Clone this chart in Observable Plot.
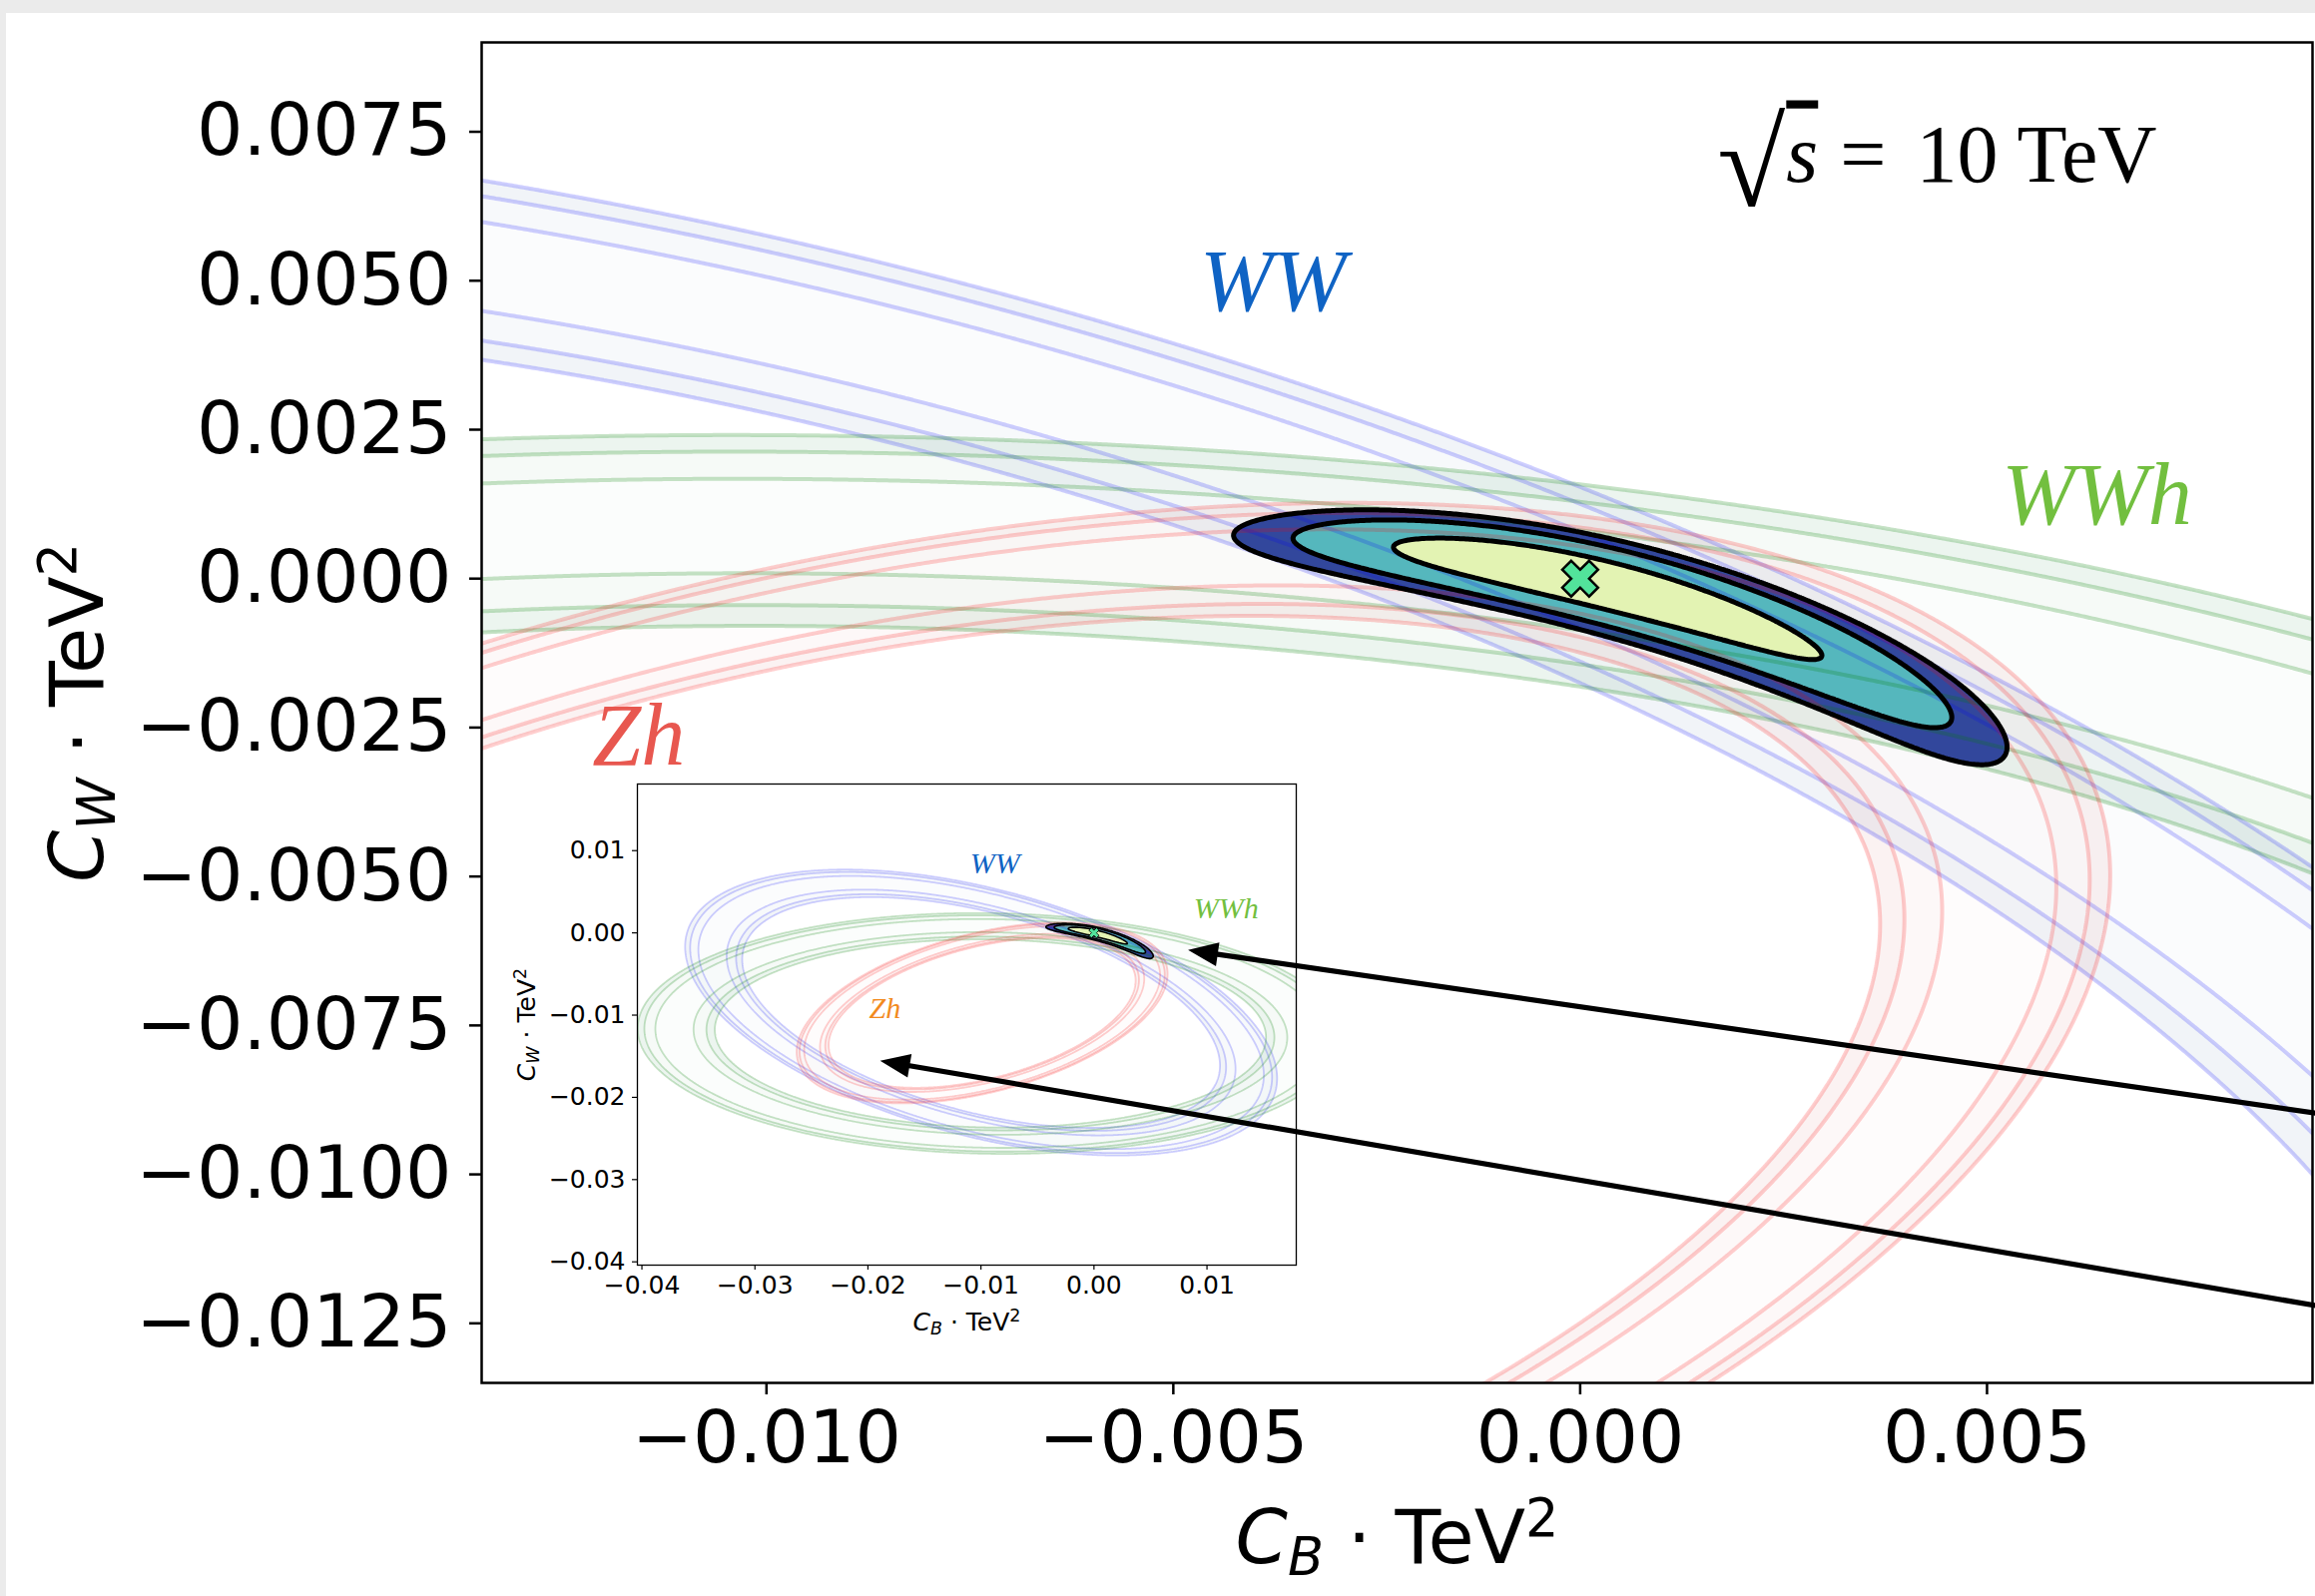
<!DOCTYPE html>
<html><head><meta charset="utf-8">
<script src="https://cdn.jsdelivr.net/npm/d3@7"></script>
<script src="https://cdn.jsdelivr.net/npm/@observablehq/plot@0.6"></script>
<style>
html,body{margin:0;padding:0;background:#ebebeb;}
#fig{position:relative;width:2319px;height:1599px;overflow:hidden;background:#ebebeb;}
#paper{position:absolute;left:6px;top:13px;width:2400px;height:1700px;background:#fff;}
#main{position:absolute;left:0;top:0;}
#inset{position:absolute;left:470px;top:765px;}
</style></head><body>
<div id="fig"><div id="paper"></div><div id="main"></div><div id="inset"></div></div>
<script>
// ---------------- data ----------------
const xDomain = [-0.0135, 0.009];
const yDomain = [-0.0135, 0.009];
const xTicks = [-0.010, -0.005, 0.000, 0.005];
const yTicks = [0.0075, 0.0050, 0.0025, 0.0000, -0.0025, -0.0050, -0.0075, -0.0100, -0.0125];
const insetXDomain = [-0.0404, 0.0179];
const insetYDomain = [-0.0404, 0.0181];
const insetXTicks = [-0.04, -0.03, -0.02, -0.01, 0.00, 0.01];
const insetYTicks = [0.01, 0.00, -0.01, -0.02, -0.03, -0.04];
// band lines: sqrt of Delta-chi2 at 68%, 95%, 99% (2 d.o.f.)
const sigmaLevels = [1.51, 2.447, 3.035];
// combined fit regions: Delta-chi2 at 99%, 95%, 68%
const chi2Levels = [9.21, 5.99, 2.28];
const bestFit = [0, 0];
// each band: deviation = a*u + b*v + c*u^2 + d*u*v + e*v^2, with u = C_B/0.01, v = C_W/0.01
// (coefficients fitted to points)
const coefWW  = [10.746, 18.605, 3.2181, 4.4590, 7.3067];
const coefWWh = [3.2714, 18.056, 1.6014, 0.27524, 7.2772];
const coefZh  = [6.3912, 26.872, 8.7916, -11.316, 19.566];
const mainLabels = ["WW", "WWh", "Zh"];
const mainLabelX = [-0.003775, 0.00635, -0.01157];
const mainLabelY = [0.004507, 0.000917, -0.003128];
const insetLabels = ["WW", "WWh", "Zh"];
const insetLabelX = [-0.00875, 0.0117, -0.0185];
const insetLabelY = [0.00726, 0.00176, -0.0104];
const arrowTipX = [0.008323, -0.018926];
const arrowTipY = [-0.002091, -0.015543];
const arrowAngle = [-81.77, -80.32];

// ---------------- band functions ----------------
const quad = c => (x, y) => { const u = 100 * x, v = 100 * y; return c[0]*u + c[1]*v + c[2]*u*u + c[3]*u*v + c[4]*v*v; };
const fWW = quad(coefWW), fWWh = quad(coefWWh), fZh = quad(coefZh);
const chi2 = (x, y) => fWW(x, y) ** 2 + fWWh(x, y) ** 2 + fZh(x, y) ** 2;

const procs = [
  {f: fWW,  line: "#0000ff", lineOpacity: 0.19, fill: "#6987b9", alpha: [0.024, 0.026, 0.045]},
  {f: fWWh, line: "#008000", lineOpacity: 0.22, fill: "#1f8a3a", alpha: [0.014, 0.025, 0.045]},
  {f: fZh,  line: "#ff0000", lineOpacity: 0.19, fill: "#dc8282", alpha: [0.025, 0.03, 0.05]}
];
const fitColors = ["#233a96", "#58c0c0", "#eef8b2"];

function chartMarks(xd, yd, o) {
  const padX = (xd[1] - xd[0]) * 0.02, padY = (yd[1] - yd[0]) * 0.02;
  const ext = {x1: xd[0] - padX, x2: xd[1] + padX, y1: yd[0] - padY, y2: yd[1] + padY, pixelSize: o.px, clip: true};
  const [L1, L2, L3] = sigmaLevels;
  const fills = procs.flatMap(p => [0, L1, L2].map((t, j) => Plot.contour({...ext,
    value: (x, y) => { const a = Math.abs(p.f(x, y)); return a <= L3 ? a : L3 - 100 * (a - L3); },
    thresholds: [t], fill: p.fill, fillOpacity: p.alpha[j], stroke: "none"})));
  const fitFills = chi2Levels.map((t, i) => Plot.contour({...ext, value: (x, y) => -chi2(x, y), thresholds: [-t],
    fill: fitColors[i], fillOpacity: 0.93, stroke: "none"}));
  const lines = procs.map(p => Plot.contour({...ext, value: p.f, thresholds: [-L3, -L2, -L1, L1, L2, L3],
    stroke: p.line, strokeOpacity: p.lineOpacity, strokeWidth: o.lw, fill: "none"}));
  const edge = Plot.contour({...ext, value: (x, y) => -chi2(x, y), thresholds: chi2Levels.map(t => -t),
    stroke: "black", strokeWidth: o.fitLw, fill: "none"});
  const marker = Plot.dot([bestFit], {x: d => d[0], y: d => d[1], symbol: "cross", rotate: 45, r: o.markerR,
    fill: "#52e39b", stroke: "black", strokeWidth: o.markerLw});
  return [...fills, ...fitFills, ...lines, edge, marker];
}
const minus = s => s.replace("-", "\u2212");

const main = Plot.plot({
  width: 2319, height: 1599,
  marginLeft: 482, marginTop: 42, marginRight: 3, marginBottom: 214,
  x: {domain: xDomain}, y: {domain: yDomain},
  style: {fontFamily: "DejaVu Sans", fontSize: "73px", background: "transparent", color: "black", overflow: "visible"},
  marks: [
    ...chartMarks(xDomain, yDomain, {px: 2, lw: 4, fitLw: 5, markerR: 16, markerLw: 2.5}),
    Plot.text(mainLabels, {x: (d, i) => mainLabelX[i], y: (d, i) => mainLabelY[i], text: d => d,
      fill: (d, i) => ["#0f63c4", "#72bf3f", "#e8574f"][i], fontFamily: "Liberation Serif", fontStyle: "italic",
      fontSize: 88, textAnchor: "middle", lineAnchor: "bottom"}),
    Plot.frame({stroke: "black", strokeWidth: 2.5}),
    Plot.axisX({ticks: xTicks, tickFormat: d => minus(d.toFixed(3)), tickSize: 12, tickPadding: 16, strokeWidth: 2.5, label: null}),
    Plot.axisY({ticks: yTicks, tickFormat: d => minus(d.toFixed(4)), tickSize: 12, tickPadding: 18, strokeWidth: 2.5, label: null}),
    Plot.text(["§xlabel"], {frameAnchor: "bottom", dy: 180, lineAnchor: "bottom", textAnchor: "middle", fontSize: 75}),
    Plot.text(["§ylabel"], {frameAnchor: "left", dx: -380, rotate: -90, lineAnchor: "bottom", textAnchor: "middle", fontSize: 75}),
    Plot.text(["§sqrt"], {frameAnchor: "top-right", dx: -156, dy: 139, lineAnchor: "bottom", textAnchor: "end",
      fontFamily: "Liberation Serif", fontSize: 82})
  ]
});
document.getElementById("main").appendChild(main);

const arrowShape = {draw(ctx, l) {
  const hl = 30, hw = 12, sw = 2.6;
  ctx.moveTo(0, -l); ctx.lineTo(hw, -l + hl); ctx.lineTo(sw, -l + hl); ctx.lineTo(sw, 0);
  ctx.lineTo(-sw, 0); ctx.lineTo(-sw, -l + hl); ctx.lineTo(-hw, -l + hl); ctx.closePath();
}};

const inset = Plot.plot({
  width: 850, height: 585,
  marginLeft: 168, marginTop: 20, marginRight: 22, marginBottom: 83,
  x: {domain: insetXDomain}, y: {domain: insetYDomain},
  style: {fontFamily: "DejaVu Sans", fontSize: "25px", background: "transparent", color: "black", overflow: "visible"},
  marks: [
    Plot.frame({fill: "white"}),
    ...chartMarks(insetXDomain, insetYDomain, {px: 1, lw: 1.8, fitLw: 1.6, markerR: 4.5, markerLw: 0.8}),
    Plot.text(insetLabels, {x: (d, i) => insetLabelX[i], y: (d, i) => insetLabelY[i], text: d => d,
      fill: (d, i) => ["#0f63c4", "#72bf3f", "#f28a1e"][i], fontFamily: "Liberation Serif", fontStyle: "italic",
      fontSize: 30, textAnchor: "middle", lineAnchor: "bottom"}),
    Plot.frame({stroke: "black", strokeWidth: 1.3}),
    Plot.axisX({ticks: insetXTicks, tickFormat: d => minus(d.toFixed(2)), tickSize: 5, tickPadding: 6, strokeWidth: 1.2, label: null}),
    Plot.axisY({ticks: insetYTicks, tickFormat: d => minus(d.toFixed(2)), tickSize: 5, tickPadding: 7, strokeWidth: 1.2, label: null}),
    Plot.text(["§ixlabel"], {frameAnchor: "bottom", dy: 65, lineAnchor: "bottom", textAnchor: "middle", fontSize: 25}),
    Plot.text(["§iylabel"], {frameAnchor: "left", dx: -103, rotate: -90, lineAnchor: "bottom", textAnchor: "middle", fontSize: 25}),
    Plot.vector(arrowTipX.map((x, i) => i), {x: i => arrowTipX[i], y: i => arrowTipY[i], rotate: i => arrowAngle[i],
      length: 1700, anchor: "end", shape: arrowShape, fill: "black", stroke: "none", clip: false})
  ]
});
document.getElementById("inset").appendChild(inset);

// ---------------- rich text (math-style labels) ----------------
function richText(svg, placeholder, parts, size) {
  d3.select(svg).selectAll("text").filter(function() { return this.textContent === placeholder; }).each(function() {
    const t = d3.select(this); t.text(null); let shift = 0;
    for (const p of parts) {
      const ts = t.append("tspan").text(p.t);
      let target = p.shift || 0;
      if (p.sub) { target = 0.16 * size; ts.attr("font-size", 0.7 * size); }
      if (p.sup) { target = -0.36 * size; ts.attr("font-size", 0.7 * size); }
      if (p.size) ts.attr("font-size", p.size);
      if (p.italic) ts.attr("font-style", "italic");
      if (p.overline) ts.style("text-decoration", "overline");
      if (p.dx) ts.attr("dx", p.dx);
      if (target !== shift) { ts.attr("dy", target - shift); shift = target; }
    }
  });
}
const xLab = [{t: "C", italic: true}, {t: "B", italic: true, sub: true}, {t: " \u00b7 TeV"}, {t: "2", sup: true}];
const yLab = [{t: "C", italic: true}, {t: "W", italic: true, sub: true}, {t: " \u00b7 TeV"}, {t: "2", sup: true}];
richText(main, "§xlabel", xLab, 75);
richText(main, "§ylabel", yLab, 75);
richText(main, "§sqrt", [{t: "\u221a", size: 124, shift: 24}, {t: "s", italic: true, overline: true, dx: 1},
  {t: "=", dx: 22}, {t: "10", dx: 30}, {t: " TeV"}], 82);
richText(inset, "§ixlabel", xLab, 25);
richText(inset, "§iylabel", yLab, 25);
</script>
</body></html>
